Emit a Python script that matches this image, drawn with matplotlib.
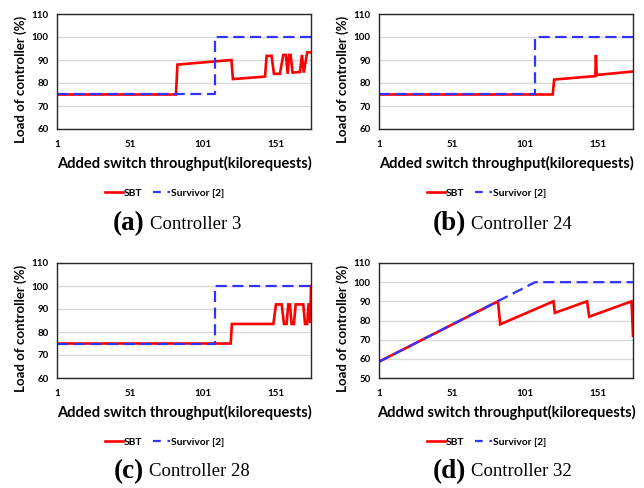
import matplotlib
matplotlib.use("Agg")
import matplotlib.pyplot as plt
from matplotlib.lines import Line2D

# ---------------- data ----------------
x_ticks = [1, 51, 101, 151]

# (a) Controller 3
a_sbt_x = [1, 82.5, 83.5, 120.5, 121.5, 143.5, 144.6, 148, 149.6, 153.7, 156, 157.8, 159, 160, 161, 162.4, 167.4, 168.8, 170, 172.4, 175]
a_sbt_y = [75, 75, 88, 90, 81.7, 82.8, 91.8, 91.8, 84, 84, 92.2, 92.2, 84, 92.2, 92.2, 84.5, 84.8, 92.2, 84.5, 93.3, 93.3]
a_surv_x = [1, 109, 109, 175]
a_surv_y = [75, 75, 100, 100]

# (b) Controller 24
b_sbt_x = [1, 120, 121, 149.2, 149.6, 150.1, 175]
b_sbt_y = [75, 75, 81.5, 83, 92.2, 83.5, 85]
b_surv_x = [1, 108, 108, 175]
b_surv_y = [75, 75, 100, 100]

# (c) Controller 28
c_sbt_x = [1, 120, 120.8, 149.2, 151, 154.9, 156.5, 158.3, 159.4, 160.6, 161.7, 163.3, 164.5, 169.7, 170.9, 172.4, 173.3, 174, 174.5, 175]
c_sbt_y = [75, 75, 83.5, 83.5, 92, 92, 83.5, 83.5, 92, 92, 83.5, 83.5, 92, 92, 83.5, 83.5, 92, 92, 84, 100]
c_surv_x = [1, 109, 109, 175]
c_surv_y = [75, 75, 100, 100]

# (d) Controller 32
d_sbt_x = [1, 82.5, 84, 120.5, 121.5, 143.5, 145, 174, 175]
d_sbt_y = [58.5, 90, 78, 90, 84, 90, 82, 90, 72]
d_surv_x = [1, 108, 175]
d_surv_y = [58.5, 100, 100]

panels = [
    dict(sx=a_sbt_x, sy=a_sbt_y, vx=a_surv_x, vy=a_surv_y, ylim=(60, 110),
         xlabel="Added switch throughput(kilorequests)", tag="(a)", cap="Controller 3"),
    dict(sx=b_sbt_x, sy=b_sbt_y, vx=b_surv_x, vy=b_surv_y, ylim=(60, 110),
         xlabel="Added switch throughput(kilorequests)", tag="(b)", cap="Controller 24"),
    dict(sx=c_sbt_x, sy=c_sbt_y, vx=c_surv_x, vy=c_surv_y, ylim=(60, 110),
         xlabel="Added switch throughput(kilorequests)", tag="(c)", cap="Controller 28"),
    dict(sx=d_sbt_x, sy=d_sbt_y, vx=d_surv_x, vy=d_surv_y, ylim=(50, 110),
         xlabel="Addwd switch throughput(kilorequests)", tag="(d)", cap="Controller 32"),
]

# ---------------- layout (pixels) ----------------
W, H = 644, 488
fig = plt.figure(figsize=(W / 100, H / 100), dpi=100)

# left, right, top, bottom of axes; legend y; caption y; caption split x
boxes = [
    (57, 311, 14, 129, 193, 224, 145),
    (379, 633, 14, 129, 193, 224, 466),
    (57, 311, 263, 378, 442, 472, 144),
    (379, 633, 263, 378, 442, 472, 466),
]

SANS = "Lato"
SERIF = "Liberation Serif"
red = "#ff0000"
blue = "#3333ff"

for p, (l, r, t, b, ly, cy, cx) in zip(panels, boxes):
    ax = fig.add_axes([l / W, 1 - b / H, (r - l) / W, (b - t) / H])
    ax.plot(p["sx"], p["sy"], color=red, lw=1.9, solid_joinstyle="miter")
    ax.plot(p["vx"], p["vy"], color=blue, lw=1.6, dashes=(5, 2.5))
    ax.set_xlim(1, 175)
    ax.set_ylim(*p["ylim"])
    ax.set_xticks(x_ticks)
    ax.set_yticks(range(p["ylim"][0], 111, 10))
    ax.grid(axis="y", color="#d9d9d9", lw=1.0)
    ax.set_axisbelow(True)
    ax.tick_params(length=0, labelsize=7, pad=6)
    ax.tick_params(axis="x", pad=8)
    for lab in ax.get_xticklabels() + ax.get_yticklabels():
        lab.set_fontfamily(SANS)
        lab.set_fontweight("bold")
    for s in ax.spines.values():
        s.set_color("#262626")
        s.set_linewidth(1.0)
    ax.set_ylabel("Load of controller (%)", fontsize=9.5, fontweight="bold", family=SANS)
    ax.yaxis.set_label_coords(-0.12, 0.43)
    ax.set_xlabel(p["xlabel"], fontsize=10.5, fontweight="bold", family=SANS, labelpad=5)

    handles = [Line2D([], [], color=red, lw=1.9),
               Line2D([], [], color=blue, lw=1.6, dashes=(3.5, 3))]
    fig.legend(handles, ["SBT", "Survivor [2]"], loc="center",
               bbox_to_anchor=((l + r) / 2 / W - 19 / W, 1 - ly / H),
               ncol=2, frameon=False, handlelength=1.7, handletextpad=0.1,
               columnspacing=1.0, prop=dict(family=SANS, weight="bold", size=7.4))

    fig.text(cx / W, 1 - cy / H, p["tag"], ha="right", va="center",
             family=SERIF, weight="bold", fontsize=19.5)
    fig.text((cx + 5) / W, 1 - cy / H, p["cap"], ha="left", va="center",
             family=SERIF, fontsize=13.5)

fig.savefig("out.png", dpi=100)
